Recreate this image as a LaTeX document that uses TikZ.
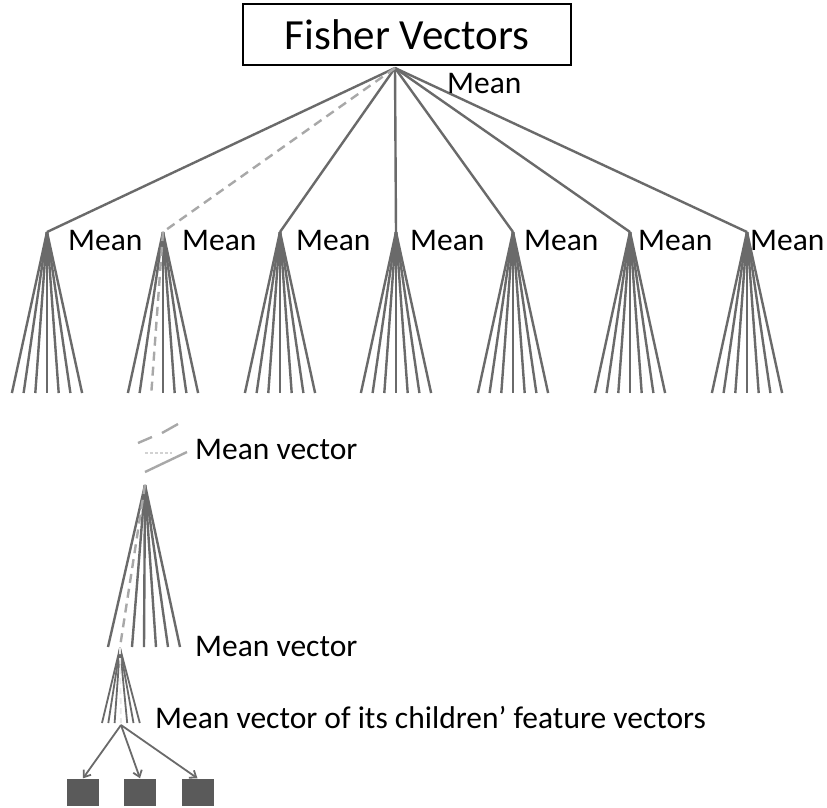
\documentclass[tikz,border=0pt]{standalone}
\usepackage{fontspec}
\setmainfont{Carlito}
\usetikzlibrary{arrows.meta}
\definecolor{ln}{HTML}{6A6A6A}
\definecolor{lnl}{HTML}{A8A8A8}
\definecolor{sqc}{HTML}{5A5A5A}
\begin{document}
\begin{tikzpicture}[x=1pt,y=-1pt,
  edge/.style={draw=ln, line width=2.4pt},
  dedge/.style={draw=lnl, line width=2.4pt, dash pattern=on 9pt off 6pt},
  wedge/.style={draw=white!85!ln, line width=1.8pt, dash pattern=on 6pt off 4pt},
  lbl/.style={anchor=west, inner sep=0pt, font=\fontsize{31.5}{33}\selectfont},
  leaf/.style={fill=sqc, draw=none, minimum width=32pt, minimum height=27pt, inner sep=0pt},
  arr/.style={draw=ln, line width=1.8pt, -{Straight Barb[length=6pt,width=9pt]}}]
\useasboundingbox (0,0) rectangle (827,807);
\fill[white] (0,0) rectangle (827,807);
% root box
\node[draw, line width=1.8pt, minimum width=328pt, minimum height=61pt, inner sep=0pt,
  font=\fontsize{43}{45}\selectfont] (fv) at (407,34.5) {Fisher Vectors};
\coordinate (root) at (395,68);
% first level fans
\foreach \i/\x in {1/47,2/163,3/280,4/396,5/513,6/630,7/747} {
  \coordinate (a\i) at (\x,232);
  \foreach \j in {1,...,7} \coordinate (a\i b\j) at ({\x+(\j-4)*11.7},393);
}
\foreach \i in {1,3,4,5,6,7} \draw[edge] (root) -- (a\i);
\draw[dedge] (root) -- (a2);
\foreach \i in {1,3,4,5,6,7} \foreach \j in {1,...,7} \draw[edge] (a\i) -- (a\i b\j);
\foreach \j in {1,2,4,5,6,7} \draw[edge] (a2) -- (a2b\j);
\draw[dedge] (a2) -- (a2b3);
% labels
\node[lbl] (mtop) at (447,84) {Mean};
\foreach \i/\x in {1/68,2/182,3/296,4/410,5/524,6/638,7/750}
  \node[lbl] (m\i) at (\x,241) {Mean};
% broken continuation
\coordinate (f1) at (138,443); \coordinate (f2) at (152,437);
\coordinate (f3) at (162,433); \coordinate (f4) at (178,424);
\coordinate (f5) at (145,453); \coordinate (f6) at (172,453);
\coordinate (f7) at (145,472); \coordinate (f8) at (187,452);
\draw[draw=lnl, line width=2.4pt] (f1) -- (f2);
\draw[draw=lnl, line width=2.4pt] (f3) -- (f4);
\draw[draw=white!70!ln, line width=1.4pt, dash pattern=on 3pt off 2pt] (f5) -- (f6);
\draw[draw=lnl, line width=2.4pt] (f7) -- (f8);
\node[lbl] (mv1) at (195,449) {Mean vector};
% second fan
\coordinate (c) at (145,485);
\foreach \j in {1,...,7} \coordinate (cb\j) at ({108+(\j-1)*12},647);
\foreach \j in {1,3,4,5,6,7} \draw[edge] (c) -- (cb\j);
\draw[dedge] (c) -- (cb2);
\node[lbl] (mv2) at (195,646) {Mean vector};
% third fan
\coordinate (d) at (120,648);
\foreach \j in {1,...,7} \coordinate (db\j) at ({102+(\j-1)*6.3},723);
\foreach \j in {1,2,3,5,6,7} \draw[edge, line width=1.8pt] (d) -- (db\j);
\draw[wedge] (d) -- (db4);
\node[lbl] (mv3) at (155,717) {Mean vector of its children’ feature vectors};
% leaves
\coordinate (s) at (121,725);
\node[leaf] (l1) at (83,792) {};
\node[leaf] (l2) at (140,792) {};
\node[leaf] (l3) at (197.5,792) {};
\foreach \k in {1,2,3} \draw[arr] (s) -- (l\k.north);
\end{tikzpicture}
\end{document}
